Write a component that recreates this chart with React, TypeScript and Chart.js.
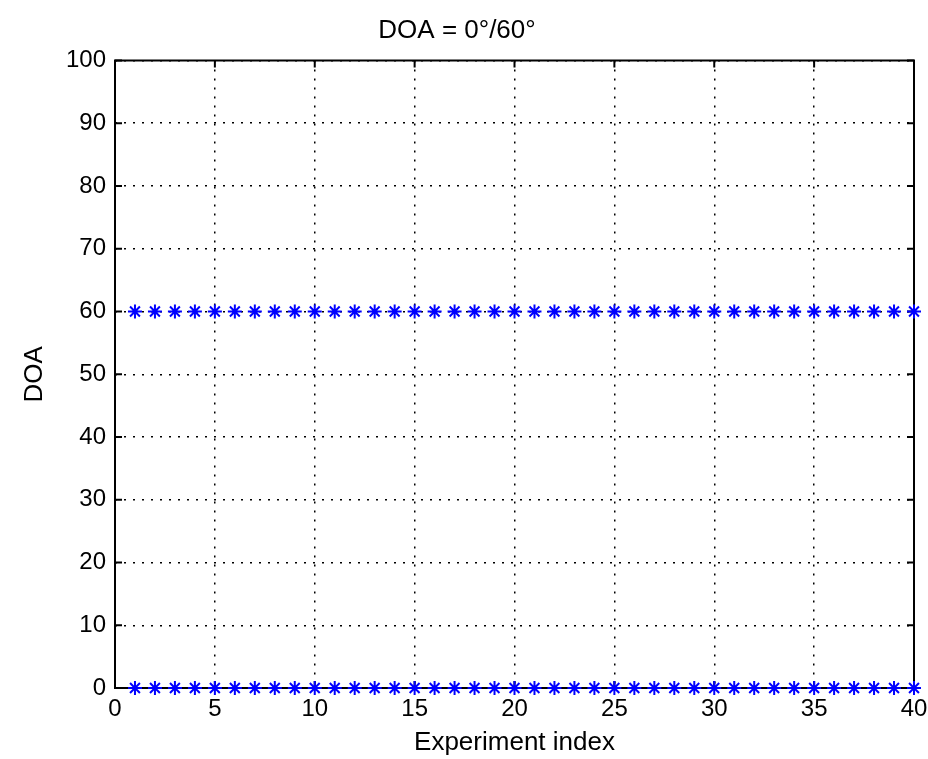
import { useEffect, useRef } from 'react';
import { Chart, registerables } from 'chart.js';

Chart.register(...registerables);

const experimentIndex = [1, 2, 3, 4, 5, 6, 7, 8, 9, 10, 11, 12, 13, 14, 15, 16, 17, 18, 19, 20, 21, 22, 23, 24, 25, 26, 27, 28, 29, 30, 31, 32, 33, 34, 35, 36, 37, 38, 39, 40];
const doaSource60 = [60, 60, 60, 60, 60, 60, 60, 60, 60, 60, 60, 60, 60, 60, 60, 60, 60, 60, 60, 60, 60, 60, 60, 60, 60, 60, 60, 60, 60, 60, 60, 60, 60, 60, 60, 60, 60, 60, 60, 60];
const doaSource0 = [0, 0, 0, 0, 0, 0, 0, 0, 0, 0, 0, 0, 0, 0, 0, 0, 0, 0, 0, 0, 0, 0, 0, 0, 0, 0, 0, 0, 0, 0, 0, 0, 0, 0, 0, 0, 0, 0, 0, 0];
const xTicks = [0, 5, 10, 15, 20, 25, 30, 35, 40];
const yTicks = [0, 10, 20, 30, 40, 50, 60, 70, 80, 90, 100];

const FONT = '"Liberation Sans", Arial, Helvetica, sans-serif';

const axesBox = {
  id: 'axesBox',
  beforeDatasetsDraw(chart: any) {
    const { ctx, chartArea, scales } = chart;
    const { left, right, top, bottom } = chartArea;
    const x = scales.x;
    const y = scales.y;
    ctx.save();
    ctx.strokeStyle = '#000';
    ctx.lineWidth = 2;
    ctx.strokeRect(left, top, right - left, bottom - top);
    ctx.beginPath();
    const tl = 7;
    for (const v of xTicks) {
      const px = x.getPixelForValue(v);
      ctx.moveTo(px, bottom);
      ctx.lineTo(px, bottom - tl);
      ctx.moveTo(px, top);
      ctx.lineTo(px, top + tl);
    }
    for (const v of yTicks) {
      const py = y.getPixelForValue(v);
      ctx.moveTo(left, py);
      ctx.lineTo(left + tl, py);
      ctx.moveTo(right, py);
      ctx.lineTo(right - tl, py);
    }
    ctx.stroke();
    ctx.restore();
  },
};

export default function App() {
  const ref = useRef<HTMLCanvasElement | null>(null);
  useEffect(() => {
    if (!ref.current) return;
    const toPoints = (ys: number[]) => experimentIndex.map((xv, i) => ({ x: xv, y: ys[i] }));
    const markerStyle = {
      pointStyle: 'star',
      pointRadius: 7,
      borderColor: '#0000ff',
      backgroundColor: '#0000ff',
      borderWidth: 2,
      showLine: false,
      clip: false,
    };
    const chart = new Chart(ref.current, {
      type: 'scatter',
      data: {
        datasets: [
          { label: 'DOA 60', data: toPoints(doaSource60), ...markerStyle },
          { label: 'DOA 0', data: toPoints(doaSource0), ...markerStyle },
        ],
      },
      options: {
        animation: false,
        responsive: false,
        events: [],
        layout: { padding: { left: 0, right: 14, top: 0, bottom: 0 } },
        plugins: {
          legend: { display: false },
          tooltip: { enabled: false },
          title: {
            display: true,
            text: 'DOA = 0°/60°',
            color: '#000',
            font: { family: FONT, size: 26, weight: 'normal' },
            padding: { top: 14.9, bottom: 14.4 },
          },
        },
        scales: {
          x: {
            type: 'linear',
            min: 0,
            max: 40,
            afterBuildTicks: (s: any) => {
              s.ticks = xTicks.map((v) => ({ value: v }));
            },
            afterFit: (s: any) => {
              s.height = 71;
              s.paddingLeft = 0;
              s.paddingRight = 0;
            },
            ticks: {
              color: '#000',
              font: { family: FONT, size: 24 },
              padding: 7,
              maxRotation: 0,
              autoSkip: false,
            },
            grid: {
              display: true,
              color: '#000',
              lineWidth: 1.5,
              drawTicks: false,
            },
            border: { display: false, dash: [2, 7] },
            title: {
              display: true,
              text: 'Experiment index',
              color: '#000',
              font: { family: FONT, size: 26 },
              padding: { top: 0, bottom: 0.4 },
            },
          },
          y: {
            type: 'linear',
            min: 0,
            max: 100,
            afterBuildTicks: (s: any) => {
              s.ticks = yTicks.map((v) => ({ value: v }));
            },
            afterFit: (s: any) => {
              s.width = 115;
              s.paddingTop = 0;
              s.paddingBottom = 0;
            },
            ticks: {
              color: '#000',
              font: { family: FONT, size: 24 },
              padding: 9,
              autoSkip: false,
            },
            grid: {
              display: true,
              color: '#000',
              lineWidth: 1.5,
              drawTicks: false,
            },
            border: { display: false, dash: [2, 7] },
            title: {
              display: true,
              text: 'DOA',
              color: '#000',
              font: { family: FONT, size: 26 },
              padding: { top: 19.4, bottom: 0 },
            },
          },
        },
      },
      plugins: [axesBox],
    } as any);
    return () => chart.destroy();
  }, []);

  return (
    <div style={{ position: 'absolute', left: 0, top: 0, width: 928, height: 759, background: '#fff' }}>
      <canvas ref={ref} width={928} height={759} style={{ width: 928, height: 759, display: 'block' }} />
    </div>
  );
}
